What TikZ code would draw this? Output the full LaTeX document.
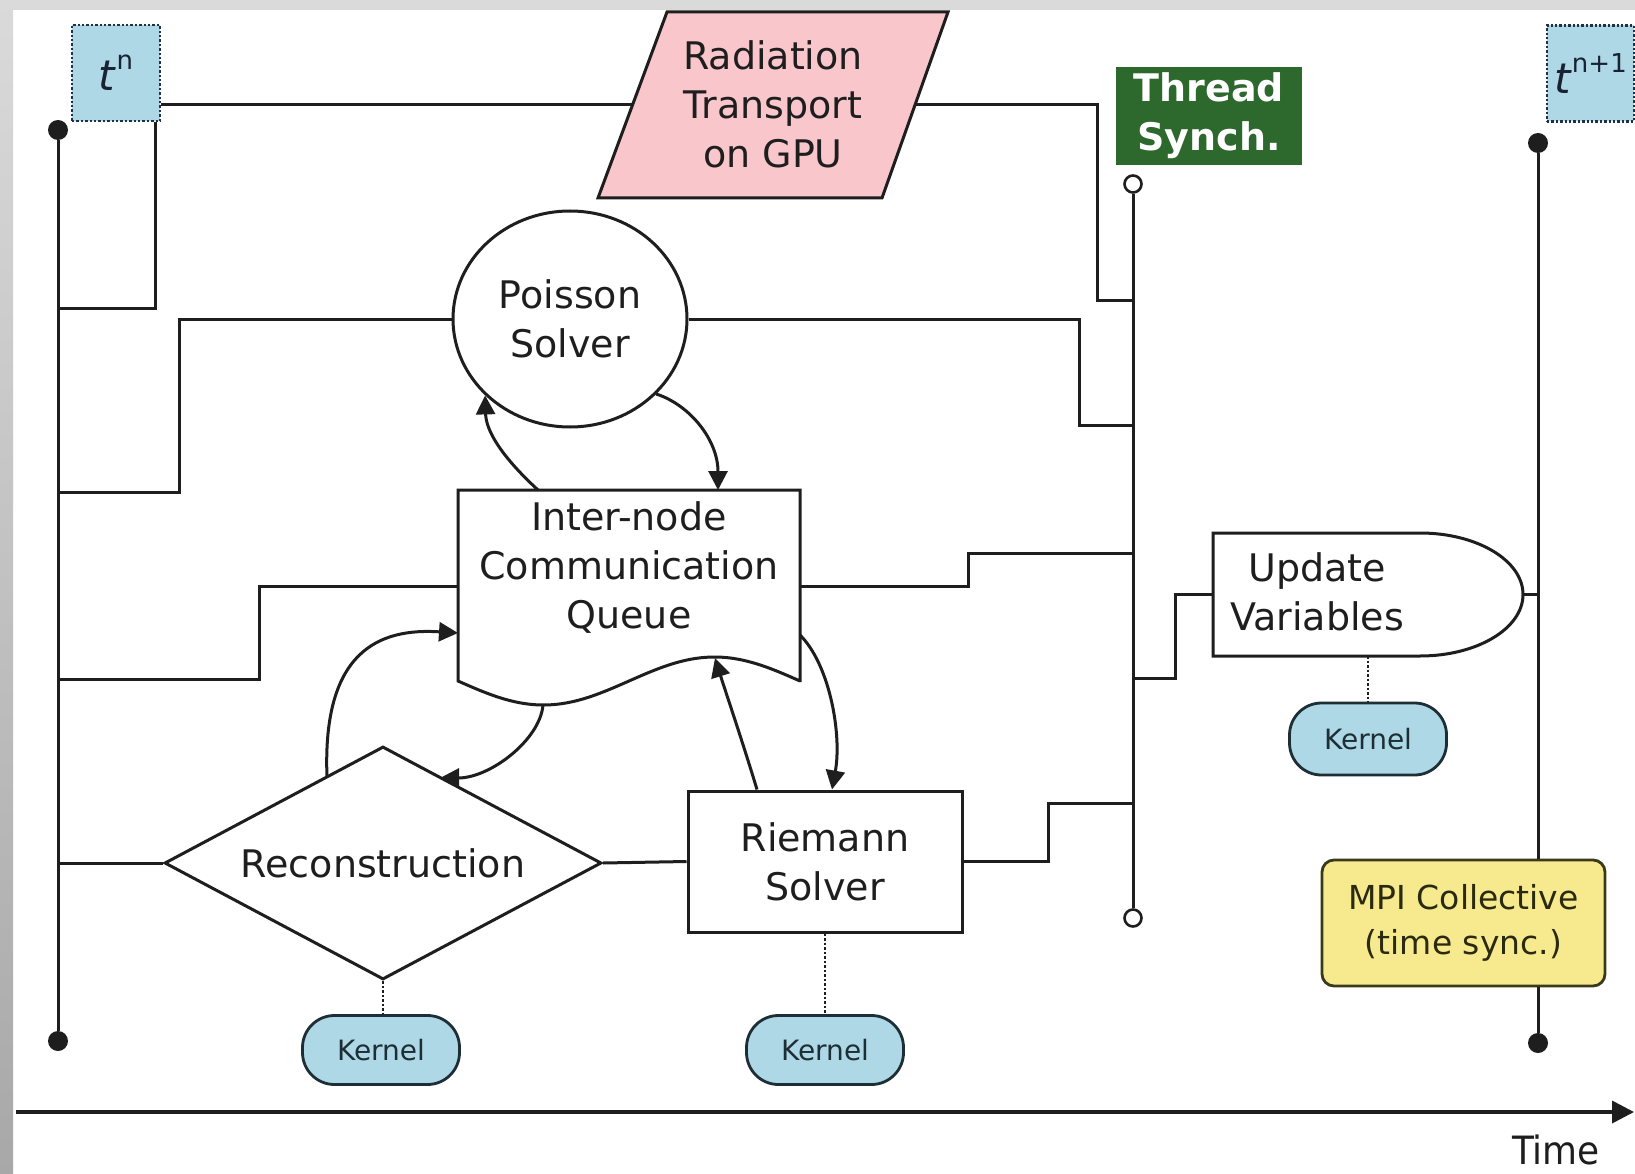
\documentclass[tikz,border=0pt]{standalone}
\usepackage{fontspec}
\setmainfont{DejaVu Sans}
\usetikzlibrary{shapes.geometric,arrows.meta}

\definecolor{inkline}{HTML}{1E1E1E}
\definecolor{tboxfill}{HTML}{AED8E6}
\definecolor{tboxline}{HTML}{223047}
\definecolor{gpupink}{HTML}{F9C6CC}
\definecolor{syncgreen}{HTML}{2D682D}
\definecolor{mpiyellow}{HTML}{F7E98E}
\definecolor{mpiline}{HTML}{3A3A1A}
\definecolor{mpitext}{HTML}{2A2A10}
\definecolor{kernelfill}{HTML}{AED8E6}
\definecolor{kernelline}{HTML}{1E2E36}
\definecolor{framegray}{HTML}{DADADA}
\definecolor{frameshade}{HTML}{A8A8A8}

\newcommand{\labelsize}{\fontsize{38}{49}\selectfont}
\newcommand{\kernelsize}{\fontsize{28}{34}\selectfont}
\newcommand{\mpisize}{\fontsize{33}{45}\selectfont}
\newcommand{\tlabel}[1]{\fontsize{42}{42}\selectfont\textit{t}\raisebox{21pt}{\fontsize{26}{26}\selectfont #1}}

\tikzset{
  wire/.style={draw=inkline, line width=3pt},
  flowbox/.style={draw=inkline, line width=3pt, fill=white, align=center,
                  font=\labelsize, text=inkline, inner sep=0pt},
  lbl/.style={align=center, font=\labelsize, text=inkline, inner sep=0pt},
  kernelbox/.style={draw=kernelline, line width=2.8pt, fill=kernelfill,
                    rounded corners=32pt, minimum width=157pt, minimum height=69pt,
                    font=\kernelsize, text=kernelline, inner sep=0pt},
  kernellink/.style={draw=inkline, line width=2.5pt, dash pattern=on 2.5pt off 2pt},
  blackdot/.style={circle, fill=inkline, inner sep=0pt, minimum size=20pt},
  syncdot/.style={circle, draw=inkline, line width=2.6pt, fill=white,
                  inner sep=0pt, minimum size=17pt},
  tbox/.style={draw=tboxline, line width=2.4pt, dotted, fill=tboxfill,
               minimum width=88pt, minimum height=96pt, inner sep=0pt,
               text=tboxline!70!black},
  flowarrow/.style={wire, -{Triangle[length=19pt,width=19pt]}},
  timeaxis/.style={draw=inkline, line width=3.6pt, -{Triangle[length=22pt,width=22pt]}},
}

\begin{document}
\begin{tikzpicture}[x=1pt,y=-1pt]
% page and screen frame
\useasboundingbox (0,0) rectangle (1635,1174);
\fill[white] (0,0) rectangle (1635,1174);
\fill[framegray] (0,0) rectangle (1635,10);
\shade[top color=framegray, bottom color=frameshade] (0,0) rectangle (13,1174);

% time axis
\coordinate (axisL) at (16,1112);
\coordinate (axisR) at (1634,1112);
\draw[timeaxis] (axisL) -- (axisR);
\node[font=\fontsize{39}{39}\selectfont, text=inkline, inner sep=0pt] (timelabel) at (1556,1150) {\scalebox{0.92}[1]{Time}};

% time-step markers
\node[tbox] (tn) at (116,73) {\tlabel{n}};
\node[tbox, minimum width=87pt] (tn1) at (1590.5,73.5) {\tlabel{n+1}};

% end points of the time levels and of the thread barrier
\node[blackdot] (lt) at (58,130) {};
\node[blackdot] (lb) at (58,1041) {};
\node[blackdot] (rt) at (1538,143) {};
\node[blackdot] (rb) at (1538,1043) {};
\node[syncdot] (st) at (1133,184) {};
\node[syncdot] (sb) at (1133,918) {};

% radiation transport (parallelogram)
\filldraw[draw=inkline, line width=3pt, fill=gpupink]
  (598,198) -- (667,12) -- (948,12) -- (882,198) -- cycle;
\node[lbl] (rad) at (773,104) {Radiation\\Transport\\on GPU};
\coordinate (radL) at (632,105);
\coordinate (radR) at (914,105);

% thread synchronisation label
\node[fill=syncgreen, minimum width=186pt, minimum height=98pt, inner sep=0pt,
      text=white, font=\bfseries\labelsize, align=center] (sync) at (1209,116) {Thread\\Synch.};

% Poisson solver
\node[flowbox, ellipse, minimum width=234pt, minimum height=216pt] (poisson) at (570,319) {Poisson\\Solver};

% communication queue (document shape with wavy bottom)
\filldraw[draw=inkline, line width=3pt, fill=white]
  (458,490) -- (800,490) -- (800,682)
  -- plot[domain=800:458, samples=80, smooth] (\x, {681+24*sin((\x-458)/342*360)})
  -- cycle;
\node[lbl] (queue) at (629,568) {Inter-node\\Communication\\Queue};
\coordinate (queueW) at (458,586);
\coordinate (queueE) at (800,586);
\coordinate (qTopA) at (538,490);
\coordinate (qTopB) at (718,490);
\coordinate (qLeft) at (458,633);
\coordinate (qBot1) at (543,705);
\coordinate (qBot2) at (715,658);
\coordinate (qRight) at (800,635);

% reconstruction and Riemann solver
\node[flowbox, diamond, aspect=1.875, minimum width=437pt, minimum height=233pt] (recon) at (383,863) {Reconstruction};
\coordinate (dUL) at (327,777);
\coordinate (dUR) at (440,778);
\node[flowbox, rectangle, minimum width=274pt, minimum height=141pt] (riemann) at (825,861.5) {Riemann\\Solver};

% update of the variables (delay shape)
\filldraw[draw=inkline, line width=3pt, fill=white]
  (1213,533) -- (1420,533)
  .. controls (1477,533) and (1523,560.5) .. (1523,594.5)
  .. controls (1523,628.5) and (1477,656) .. (1420,656)
  -- (1213,656) -- cycle;
\node[lbl] (update) at (1317,592) {Update\\Variables};
\coordinate (updW) at (1213,594.5);
\coordinate (updE) at (1523,594.5);
\coordinate (updS) at (1368,656);

% MPI collective
\node[draw=mpiline, line width=2.8pt, fill=mpiyellow, rounded corners=12pt,
      minimum width=283pt, minimum height=126pt, inner sep=0pt, align=center,
      font=\mpisize, text=mpitext] (mpi) at (1463.5,923) {MPI Collective\\(time sync.)};

% kernels
\node[kernelbox] (k1) at (381,1050) {Kernel};
\node[kernelbox] (k2) at (825,1050) {Kernel};
\node[kernelbox, minimum height=72pt] (k3) at (1368,739) {Kernel};
\draw[kernellink] (recon.south) -- (recon.south |- k1.north);
\draw[kernellink] (riemann.south) -- (k2.north);
\draw[kernellink] (updS) -- (k3.north);

% time levels and barrier
\draw[wire] (lt) -- (lb);
\draw[wire] (st) -- (sb);
\draw[wire] (rt) -- (rt |- mpi.north);
\draw[wire] (rt |- mpi.south) -- (rb);

% connections between the tasks
\coordinate (tnFoot) at (155,308);
\draw[wire] (tn.east |- radL) -- (radL);
\draw[wire] (tn.south -| tnFoot) -- (tnFoot) -- (lt |- tnFoot);
\coordinate (radElbow) at (1097,300);
\draw[wire] (radR) -| (radElbow) -- (st |- radElbow);

\coordinate (poisL) at (179,492);
\draw[wire] (poisson.west) -| (poisL) -- (lt |- poisL);
\coordinate (poisR) at (1079,425);
\draw[wire] (poisson.east) -| (poisR) -- (st |- poisR);

\coordinate (quL) at (259,679);
\draw[wire] (queueW) -| (quL) -- (lt |- quL);
\coordinate (quR) at (968,553);
\draw[wire] (queueE) -| (quR) -- (st |- quR);

\draw[wire] (lt |- recon.west) -- (recon.west);
\draw[wire] (recon.east) -- (riemann.west);
\coordinate (riR) at (1048,803);
\draw[wire] (riemann.east) -| (riR) -- (st |- riR);

\coordinate (upL) at (1175,678);
\draw[wire] (st |- upL) -- (upL) |- (updW);
\draw[wire] (updE) -- (rt |- updE);

% data exchange with the queue
\draw[flowarrow] (qTopA) .. controls (500,455) and (486,430) .. (poisson.222);
\draw[flowarrow] (poisson.-41) .. controls (690,405) and (718,440) .. (qTopB);
\draw[flowarrow] (dUL) .. controls (322,650) and (380,628) .. (qLeft);
\draw[flowarrow] (qBot1) .. controls (540,740) and (490,778) .. (dUR);
\draw[flowarrow] ([xshift=-68pt]riemann.north) .. controls (742,740) and (725,690) .. (qBot2);
\draw[flowarrow] (qRight) .. controls (830,665) and (842,735) .. ([xshift=7pt]riemann.north);
\end{tikzpicture}
\end{document}
